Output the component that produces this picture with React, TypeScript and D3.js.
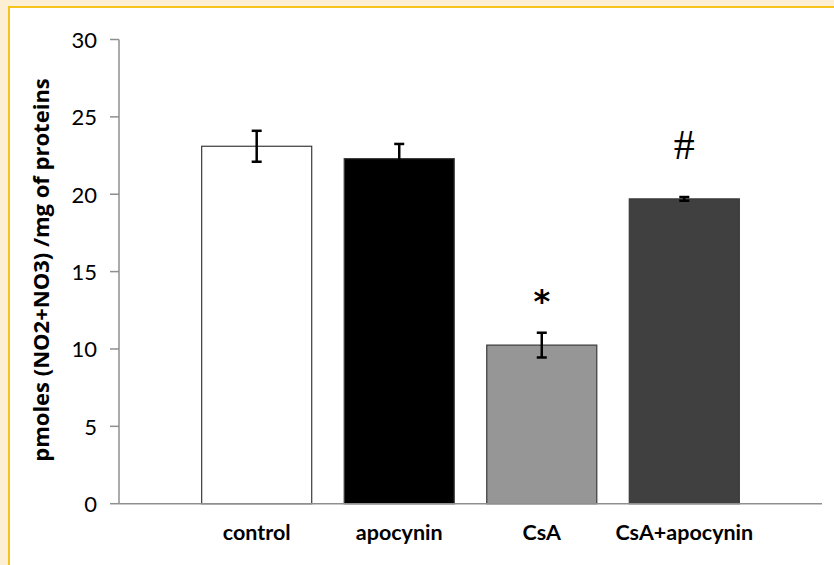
import React from 'react';
import * as d3 from 'd3';

// chart data
const groups = ['control', 'apocynin', 'CsA', 'CsA+apocynin'];
const means = [23.1, 22.3, 10.25, 19.7];
const errs = [1.0, 0.95, 0.8, 0.12];
const marks = ['', '', '*', '#'];
const yTicks = [0, 5, 10, 15, 20, 25, 30];

const fills = ['#ffffff', '#000000', '#969696', '#404040'];

const W = 834;
const H = 565;

const App = () => {
  const x = d3.scaleBand<string>()
    .domain(groups)
    .range([119, 822])
    .paddingInner(0.228)
    .paddingOuter(0.58);

  const y = d3.scaleLinear()
    .domain([0, 30])
    .range([503.7, 39.5]);

  const axisColor = '#8f8f8f';

  return (
    <div style={{ position: 'fixed', left: 0, top: 0 }}>
      <svg width={W} height={H} style={{ display: 'block' }}>
        {/* frame */}
        <rect x={0} y={0} width={W} height={H} fill="#fcefd3" />
        <rect x={8} y={6} width={W - 8} height={H - 6} fill="#f6c21c" />
        <rect x={10} y={8} width={W - 10} height={H - 8} fill="#ffffff" />

        {/* y axis */}
        <line x1={119} x2={119} y1={y(30)} y2={y(0)} stroke={axisColor} strokeWidth={1.5} />
        {yTicks.map(t => (
          <g key={t}>
            <line x1={110} x2={119} y1={y(t)} y2={y(t)} stroke={axisColor} strokeWidth={1.5} />
            <text x={97} y={y(t)} textAnchor="end" dominantBaseline="central"
              fontFamily="Lato" fontSize={22} fill="#000">{t}</text>
          </g>
        ))}

        <text transform={`translate(49,270) rotate(-90)`} textAnchor="middle"
          fontFamily="Open Sans" fontWeight="bold" fontSize={22} fill="#000">
          pmoles (NO2+NO3) /mg of proteins
        </text>

        {/* bars */}
        {groups.map((g, i) => {
          const bx = x(g)!;
          const bw = x.bandwidth();
          const cx = bx + bw / 2;
          const top = y(means[i] + errs[i]);
          return (
            <g key={g}>
              <rect x={bx} y={y(means[i])} width={bw} height={y(0) - y(means[i])}
                fill={fills[i]} stroke="#3a3a3a" strokeWidth={1.2} />
              <line x1={cx} x2={cx} y1={top} y2={y(means[i] - errs[i])}
                stroke="#000" strokeWidth={2.5} />
              <line x1={cx - 5} x2={cx + 5} y1={top} y2={top}
                stroke="#000" strokeWidth={2.5} />
              <line x1={cx - 5} x2={cx + 5} y1={y(means[i] - errs[i])} y2={y(means[i] - errs[i])}
                stroke="#000" strokeWidth={2.5} />
              <text x={cx} y={540} textAnchor="middle" fontFamily="Lato" fontWeight="bold"
                fontSize={21.5} fill="#000">{g}</text>
              {marks[i] === '*' && (
                <text x={cx} y={top - 21} textAnchor="middle"
                  fontFamily="DejaVu Sans" fontWeight="bold" fontSize={32} fill="#000">*</text>
              )}
              {marks[i] === '#' && (
                <text x={cx} y={top - 38} textAnchor="middle"
                  fontFamily="Liberation Serif" fontSize={42} fill="#000">#</text>
              )}
            </g>
          );
        })}

        {/* x axis */}
        <line x1={119} x2={822} y1={y(0)} y2={y(0)} stroke={axisColor} strokeWidth={1.5} />
      </svg>
    </div>
  );
};

export default App;
